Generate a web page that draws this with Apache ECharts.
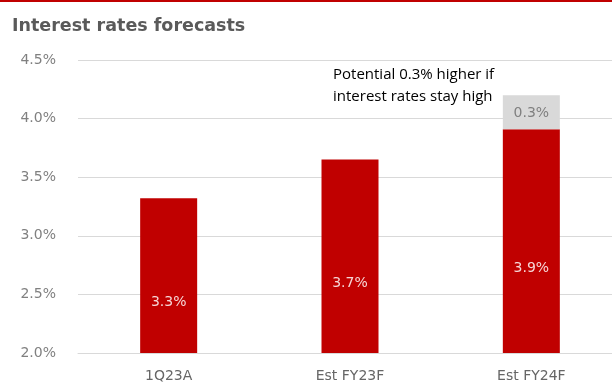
<!DOCTYPE html>
<html>
<head>
<meta charset="utf-8">
<script src="https://cdn.jsdelivr.net/npm/echarts@6/dist/echarts.min.js"></script>
<style>
html,body{margin:0;padding:0;background:#fff;overflow:hidden;}
#chart{width:640px;height:383px;}
</style>
</head>
<body>
<div id="chart"></div>
<script>
const categories = ["1Q23A", "Est FY23F", "Est FY24F"];
const baseValues = [3.32, 3.65, 3.91];
const baseLabels = ["3.3%", "3.7%", "3.9%"];
const upsideValues = [null, null, 0.29];
const upsideLabels = ["", "", "0.3%"];
const yTicks = { min: 2.0, max: 4.5, interval: 0.5 };
const titleText = "Interest rates forecasts";
const noteText = "Potential 0.3% higher if\ninterest rates stay high";

const chart = echarts.init(document.getElementById('chart'), null, {renderer: 'canvas'});
chart.setOption({
  animation: false,
  backgroundColor: '#ffffff',
  title: {
    text: titleText,
    left: 7, top: 12,
    textStyle: { fontFamily: 'DejaVu Sans', fontWeight: 'bold', fontSize: 17.5, color: '#5a5a5a' }
  },
  grid: { left: 78, right: 18, top: 60, bottom: 24, containLabel: false },
  xAxis: {
    type: 'category',
    data: categories,
    axisLine: { lineStyle: { color: '#d9d9d9' } },
    axisTick: { show: false },
    axisLabel: { color: '#666666', fontFamily: 'DejaVu Sans', fontSize: 14, margin: 16 }
  },
  yAxis: {
    type: 'value',
    min: yTicks.min, max: yTicks.max, interval: yTicks.interval,
    axisLine: { show: false },
    axisTick: { show: false },
    splitLine: { lineStyle: { color: '#d9d9d9', width: 1 } },
    axisLabel: {
      color: '#808080', fontFamily: 'DejaVu Sans', fontSize: 14, margin: 22,
      formatter: v => v.toFixed(1) + '%'
    }
  },
  series: [
    {
      type: 'bar', stack: 'r', barWidth: 57,
      data: baseValues,
      itemStyle: { color: '#c00000' },
      label: {
        show: true, position: 'inside', offset: [0, 27],
        color: '#f6d6d6', fontFamily: 'DejaVu Sans', fontSize: 14,
        formatter: p => baseLabels[p.dataIndex]
      }
    },
    {
      type: 'bar', stack: 'r', barWidth: 57,
      data: upsideValues,
      itemStyle: { color: '#d9d9d9' },
      label: {
        show: true, position: 'inside', offset: [0, 1],
        color: '#7f7f7f', fontFamily: 'DejaVu Sans', fontSize: 14,
        formatter: p => upsideLabels[p.dataIndex]
      }
    }
  ],
  graphic: [
    { type: 'rect', left: 0, top: 0, shape: { width: 640, height: 2 }, style: { fill: '#c00000' } },
    {
      type: 'text', left: 333, top: 64,
      style: { text: noteText, fill: '#000000', font: '15px "Open Sans"', lineHeight: 22 }
    }
  ]
});
</script>
</body>
</html>
